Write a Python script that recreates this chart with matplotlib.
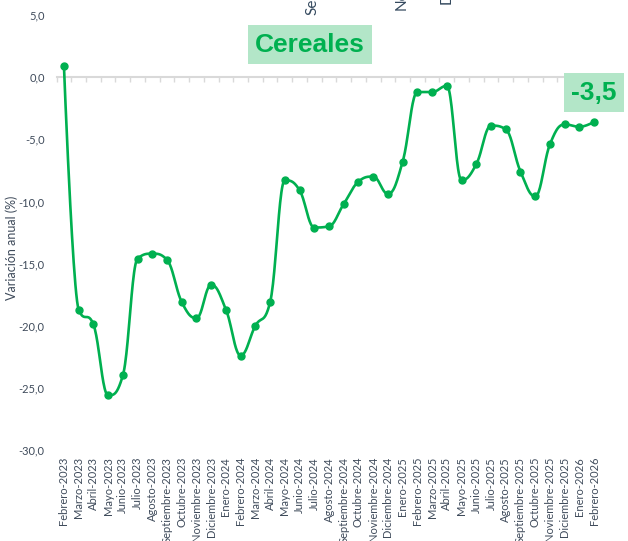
# Cereales - variación anual

import numpy as np
from matplotlib import pyplot as plt

meses = ["Febrero-2023", "Marzo-2023", "Abril-2023", "Mayo-2023", "Junio-2023",
         "Julio-2023", "Agosto-2023", "Septiembre-2023", "Octubre-2023",
         "Noviembre-2023", "Diciembre-2023", "Enero-2024", "Febrero-2024",
         "Marzo-2024", "Abril-2024", "Mayo-2024", "Junio-2024", "Julio-2024",
         "Agosto-2024", "Septiembre-2024", "Octubre-2024", "Noviembre-2024",
         "Diciembre-2024", "Enero-2025", "Febrero-2025", "Marzo-2025",
         "Abril-2025", "Mayo-2025", "Junio-2025", "Julio-2025", "Agosto-2025",
         "Septiembre-2025", "Octubre-2025", "Noviembre-2025", "Diciembre-2025",
         "Enero-2026", "Febrero-2026"]

variacion = [0.9, -18.7, -19.9, -25.6, -24.0, -14.6, -14.2, -14.7, -18.1,
             -19.4, -16.7, -18.7, -22.4, -20.0, -18.1, -8.3, -9.1, -12.1,
             -12.0, -10.2, -8.4, -8.0, -9.4, -6.8, -1.2, -1.2, -0.7, -8.3,
             -7.0, -3.9, -4.2, -7.6, -9.6, -5.4, -3.8, -4.0, -3.6]

titulo = "Cereales"
ultimo = "-3,5"
yticks = [5, 0, -5, -10, -15, -20, -25, -30]

VERDE = "#00B050"
FONDO = "#B3E6C8"
GRIS = "#3F4B5B"


def spline(xs, ys, smoothing=1.5, n=24):
    # curva suave estilo "spline" (puntos de control entre vecinos)
    m = len(xs)
    lc, rc = [], []
    for i in range(m):
        x, y = xs[i], ys[i]
        if 0 < i < m - 1:
            lx, ly = xs[i - 1], ys[i - 1]
            nx, ny = xs[i + 1], ys[i + 1]
            d = smoothing + 1
            lcx = (smoothing * x + lx) / d
            lcy = (smoothing * y + ly) / d
            rcx = (smoothing * x + nx) / d
            rcy = (smoothing * y + ny) / d
            corr = (rcy - lcy) * (rcx - x) / (rcx - lcx) + y - rcy
            lcy += corr
            rcy += corr
            if lcy > ly and lcy > y:
                lcy = max(ly, y); rcy = 2 * y - lcy
            elif lcy < ly and lcy < y:
                lcy = min(ly, y); rcy = 2 * y - lcy
            if rcy > ny and rcy > y:
                rcy = max(ny, y); lcy = 2 * y - rcy
            elif rcy < ny and rcy < y:
                rcy = min(ny, y); lcy = 2 * y - rcy
        else:
            lcx, lcy, rcx, rcy = x, y, x, y
        lc.append((lcx, lcy))
        rc.append((rcx, rcy))
    t = np.linspace(0, 1, n)[:, None]
    out = [np.array([[xs[0], ys[0]]])]
    for i in range(1, m):
        p0 = np.array([xs[i - 1], ys[i - 1]])
        p1 = np.array(rc[i - 1])
        p2 = np.array(lc[i])
        p3 = np.array([xs[i], ys[i]])
        seg = ((1 - t) ** 3) * p0 + 3 * ((1 - t) ** 2) * t * p1 \
            + 3 * (1 - t) * t ** 2 * p2 + t ** 3 * p3
        out.append(seg[1:])
    out = np.vstack(out)
    return out[:, 0], out[:, 1]


x = np.arange(len(meses))

fig = plt.figure(figsize=(6.28, 5.41), dpi=100)
ax = fig.add_axes([0.0901, 0.1682, 0.8677, 0.8041])

sx, sy = spline(list(x), variacion)
ax.plot(sx, sy, color=VERDE, lw=1.9, zorder=3, solid_capstyle="round")
ax.plot(x, variacion, "o", color=VERDE, ms=5, zorder=4)

ax.set_xlim(-0.5, len(meses) - 0.5)
ax.set_ylim(-30, 5)

for s in ["left", "top", "right"]:
    ax.spines[s].set_visible(False)
ax.spines["bottom"].set_position(("data", 0))
ax.spines["bottom"].set_color("#D9D9D9")
ax.spines["bottom"].set_linewidth(1.5)
ax.spines["bottom"].set_zorder(1)
ax.set_xticks(x)
ax.set_xticklabels([])
ax.set_xticks(np.arange(len(meses) + 1) - 0.5, minor=True)
ax.tick_params(axis="x", which="major", length=0)
ax.tick_params(axis="x", which="minor", length=3.5, width=1, color="#D9D9D9")

ax.set_yticks(yticks)
ax.set_yticklabels([f"{v:.1f}".replace(".", ",") for v in yticks],
                   fontsize=8, color=GRIS, family="Lato")
ax.tick_params(axis="y", length=0, pad=8.5)

sec = ax.secondary_xaxis(0.0)
sec.set_xticks(x)
sec.set_xticklabels(meses, rotation=90, fontsize=8, color=GRIS, family="Lato")
sec.tick_params(length=0, pad=5)
sec.spines["bottom"].set_visible(False)

fig.text(0.019, 1 - 248 / 541, "Variación anual (%)", rotation=90, ha="center",
         va="center", fontsize=9, color=GRIS, family="Lato")

fig.text(0.4936, 0.9177, titulo, ha="center", va="center", fontsize=19,
         fontweight="bold", color=VERDE, family="Liberation Sans",
         bbox=dict(boxstyle="square,pad=0.28", fc=FONDO, ec="none"))
fig.text(0.946, 0.829, ultimo, ha="center", va="center", fontsize=19,
         fontweight="bold", color=VERDE, family="Liberation Sans",
         bbox=dict(boxstyle="square,pad=0.28", fc=FONDO, ec="none"))

# etiquetas cortadas del gráfico de arriba
for txt, px, py in [("Septiembre-2025", 312, 15), ("Noviembre-2025", 402, 10),
                    ("Diciembre-2025", 447, 4)]:
    fig.text(px / 628, 1 - py / 541, txt, rotation=90, ha="center", va="bottom",
             fontsize=11, color="#34495E", family="Lato")

fig.savefig("out.png", dpi=100)
